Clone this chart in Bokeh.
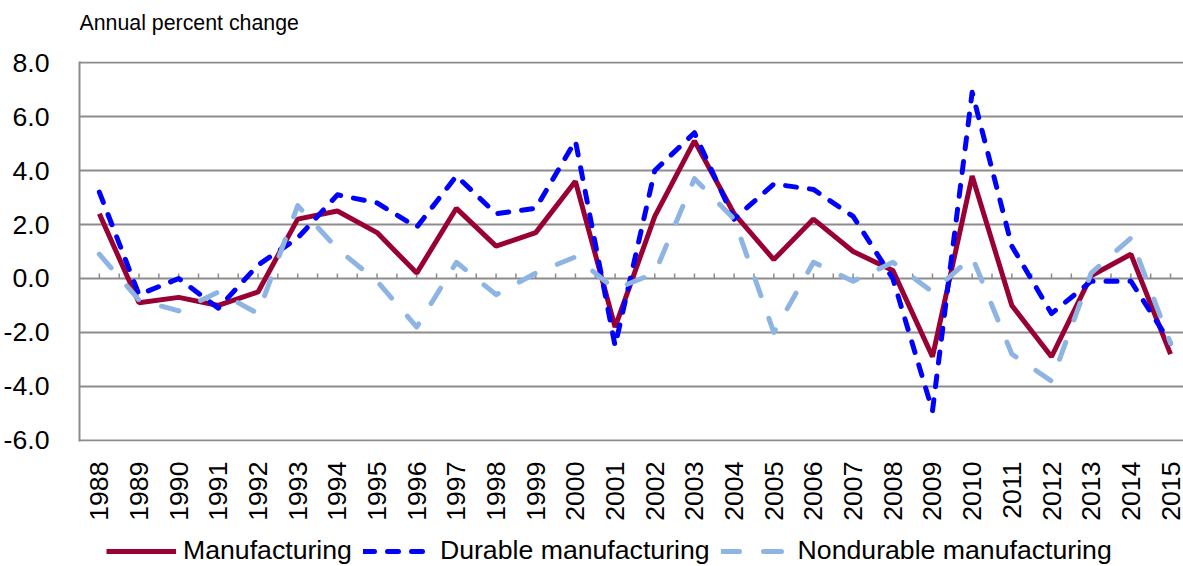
import math
from bokeh.plotting import figure
from bokeh.layouts import column
from bokeh.models import (Range1d, FixedTicker, PrintfTickFormatter, Legend, LegendItem,
                          ColumnDataSource, Label)
from bokeh.embed import file_html
from bokeh.resources import INLINE

years = list(range(1988, 2016))
manufacturing = [2.4, -0.9, -0.7, -1.0, -0.5, 2.2, 2.5, 1.7, 0.2, 2.6, 1.2, 1.7, 3.6, -1.8,
                 2.3, 5.1, 2.4, 0.7, 2.2, 1.0, 0.3, -2.9, 3.8, -1.0, -2.9, 0.1, 0.9, -2.8]
durable = [3.2, -0.6, 0.0, -1.1, 0.5, 1.5, 3.1, 2.8, 1.9, 3.8, 2.4, 2.6, 5.1, -2.5,
           4.0, 5.4, 2.2, 3.5, 3.3, 2.3, 0.0, -4.9, 6.9, 1.2, -1.3, -0.1, -0.1, -2.4]
nondurable = [0.9, -0.8, -1.2, -0.5, -1.3, 2.7, 1.1, -0.1, -1.8, 0.6, -0.6, 0.2, 0.8, -0.4,
              0.2, 3.7, 2.2, -2.0, 0.6, -0.1, 0.6, -0.5, 0.8, -2.8, -3.8, 0.2, 1.5, -2.4]
y_ticks = [-6, -4, -2, 0, 2, 4, 6, 8]
series_names = ["Manufacturing", "Durable manufacturing", "Nondurable manufacturing"]
title_text = "Annual percent change"

FONT = "Liberation Sans"
GRID = "#8c8c8c"
COLORS = ["#990033", "#0000ff", "#8db4e2"]
STYLE = [dict(line_color=COLORS[0], line_width=5),
         dict(line_color=COLORS[1], line_width=5, line_dash="11 13",
              line_cap="round", line_join="round"),
         dict(line_color=COLORS[2], line_width=5, line_dash="18 24",
              line_cap="round", line_join="round")]
COLS = ["m", "d", "n"]

idx = list(range(len(years)))
src = ColumnDataSource(dict(x=idx, m=manufacturing, d=durable, n=nondurable))


def strip(h):
    f = figure(width=1183, height=h, output_backend="svg", toolbar_location=None,
               title=None, x_axis_type=None, y_axis_type=None,
               x_range=Range1d(1000, 1001), y_range=Range1d(1000, 1001),
               min_border=0, min_border_left=0, min_border_right=0,
               min_border_top=0, min_border_bottom=0)
    f.grid.visible = False
    f.outline_line_color = None
    return f


# title strip
tf = strip(40)
tf.add_layout(Label(x=0, y=18, x_units="screen", y_units="screen", text=title_text,
                    text_font=FONT, text_font_size="16pt", text_color="#000000",
                    text_baseline="alphabetic", text_align="left"))

# main chart
p = figure(width=1183, height=490, output_backend="svg", toolbar_location=None, title=None,
           x_range=Range1d(-0.5, 27.327), y_range=Range1d(-6.04, 8.04),
           min_border_left=78, min_border_right=0, min_border_top=21, min_border_bottom=89)
p.outline_line_color = None

p.xgrid.visible = False
p.ygrid.ticker = FixedTicker(ticks=y_ticks)
p.ygrid.grid_line_color = GRID
p.ygrid.grid_line_width = 2

p.yaxis.ticker = FixedTicker(ticks=y_ticks)
p.yaxis.formatter = PrintfTickFormatter(format="%.1f")
p.yaxis.major_label_text_font = FONT
p.yaxis.major_label_text_font_size = "20pt"
p.yaxis.major_label_text_color = "#000000"
p.yaxis.axis_line_color = GRID
p.yaxis.axis_line_width = 2
p.yaxis.major_tick_line_color = None
p.yaxis.minor_tick_line_color = None
p.yaxis.major_label_standoff = 24

p.xaxis.ticker = FixedTicker(ticks=idx)
p.xaxis.major_label_overrides = {i: str(y) for i, y in zip(idx, years)}
p.xaxis.major_label_orientation = math.pi / 2
p.xaxis.major_label_text_font = FONT
p.xaxis.major_label_text_font_size = "20pt"
p.xaxis.major_label_text_color = "#000000"
p.xaxis.axis_line_color = None
p.xaxis.major_tick_line_color = None
p.xaxis.minor_tick_line_color = None
p.xaxis.major_label_standoff = 14

# small tick marks on the zero line (category centres and midpoints)
tick_x = [i * 0.5 for i in range(2 * len(years) - 1)]
tick_h = 5.0 / 27.0
p.segment(x0=tick_x, y0=[0] * len(tick_x), x1=tick_x, y1=[tick_h] * len(tick_x),
          line_color=GRID, line_width=1.5)

for c, st in zip(COLS, STYLE):
    p.line("x", c, source=src, **st)

# legend strip underneath (same series, drawn outside its visible range)
lg = strip(36)
rs = [lg.line("x", c, source=src, **st) for c, st in zip(COLS, STYLE)]
legend = Legend(items=[LegendItem(label=series_names[i], renderers=[rs[i]]) for i in range(3)],
                orientation="horizontal", location=(27, 0),
                glyph_width=70, glyph_height=26, label_standoff=7, spacing=11,
                padding=0, margin=0, border_line_color=None, background_fill_alpha=0,
                label_text_font=FONT, label_text_font_size="20pt", label_text_color="#000000")
lg.add_layout(legend, "center")

layout = column(tf, p, lg, spacing=0)
open("out.html", "w").write(file_html(layout, INLINE))
